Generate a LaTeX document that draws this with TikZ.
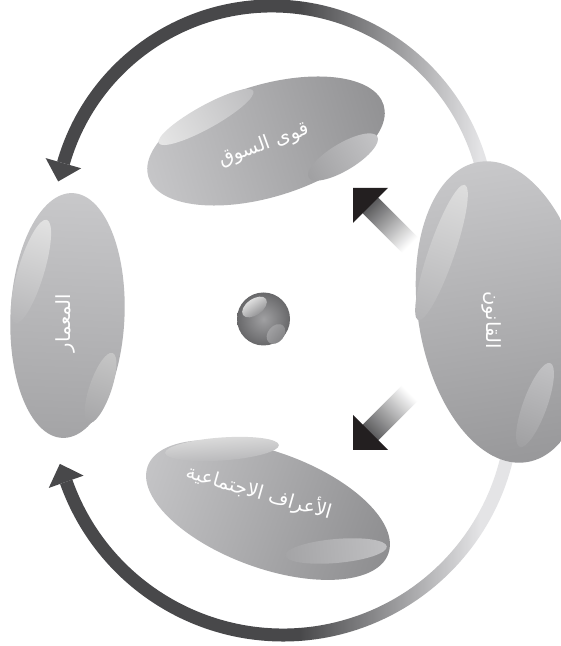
\documentclass[tikz,border=0pt]{standalone}
\usepackage{fontspec}
\usetikzlibrary{calc}
\TeXXeTstate=1
\newfontfamily\arabicfont[Script=Arabic]{DejaVu Sans}
\definecolor{arcdark}{HTML}{48484A}
\definecolor{arclight}{HTML}{E4E4E6}
\definecolor{headblack}{HTML}{231F20}
\definecolor{shaftdark}{HTML}{505052}
\newcommand\ovalshape[6]{%
  \begin{scope}[transform canvas={rotate around={#5:(#1,#2)}}]
    \shade[#6] (#1,#2) ellipse[x radius=#3, y radius=#4];
  \end{scope}}
\begin{document}
\begin{tikzpicture}[x=1pt,y=1pt,
  labeltext/.style={text=white, font=\arabicfont\fontsize{19.5}{22}\selectfont, inner sep=0pt}]
\useasboundingbox (0,0) rectangle (561,646);
\fill[white] (0,0) rectangle (561,646);
\clip (0,0) rectangle (561,646);
\coordinate (topc) at (272,423);
\coordinate (botc) at (283,241);
% ---- top arc
\begin{scope}
  \clip ($(topc)+(0:223.5)$) arc[start angle=0,end angle=164,radius=223.5]
     -- ($(topc)+(164:210.5)$) arc[start angle=164,end angle=0,radius=210.5] -- cycle;
  \fill[arcdark] (0,0) rectangle (300,646);
  \shade[left color=arcdark,right color=arclight] (299.5,0) rectangle (480.5,646);
  \fill[arclight] (480,0) rectangle (561,646);
\end{scope}
\fill[arcdark] ($(topc)+(164:235.5)$) -- ($(topc)+(164:198.5)$) -- ($(topc)+(164:217)+(254:19)$) -- cycle;
% ---- bottom arc
\begin{scope}
  \clip ($(botc)+(-5:236.5)$) arc[start angle=-5,end angle=-160.5,radius=236.5]
     -- ($(botc)+(-160.5:223.5)$) arc[start angle=-160.5,end angle=-5,radius=223.5] -- cycle;
  \fill[arcdark] (0,0) rectangle (300,646);
  \shade[left color=arcdark,right color=arclight] (299.5,0) rectangle (480.5,646);
  \fill[arclight] (480,0) rectangle (561,646);
\end{scope}
\fill[arcdark] ($(botc)+(-160.5:248.5)$) -- ($(botc)+(-160.5:211.5)$) -- ($(botc)+(-160.5:230)+(109.5:19)$) -- cycle;
% ---- law
\ovalshape{503}{334}{85}{152}{9}{top color={rgb,255:red,200;green,200;blue,202}, bottom color={rgb,255:red,152;green,152;blue,154}}
\ovalshape{441.5}{393.5}{13}{71.5}{-19}{top color={rgb,255:red,222;green,222;blue,222}, bottom color={rgb,255:red,180;green,180;blue,182}}
\ovalshape{535}{241}{12}{44.6}{-20}{top color={rgb,255:red,194;green,194;blue,196}, bottom color={rgb,255:red,160;green,160;blue,162}}
% ---- market forces
\ovalshape{266}{505}{123}{56}{17}{left color={rgb,255:red,198;green,198;blue,200}, right color={rgb,255:red,146;green,146;blue,148}}
\ovalshape{206}{529}{54}{11.5}{29}{left color={rgb,255:red,230;green,230;blue,230}, right color={rgb,255:red,190;green,190;blue,192}}
\ovalshape{343}{489}{40}{13.5}{31}{left color={rgb,255:red,160;green,160;blue,162}, right color={rgb,255:red,196;green,196;blue,198}}
% ---- social norms
\ovalshape{268}{136}{128}{58}{-20}{left color={rgb,255:red,196;green,196;blue,198}, right color={rgb,255:red,142;green,142;blue,144}}
\ovalshape{222}{197}{57}{11.5}{4}{top color={rgb,255:red,218;green,218;blue,218}, bottom color={rgb,255:red,186;green,186;blue,188}}
\ovalshape{336}{95}{51}{12}{5}{left color={rgb,255:red,164;green,164;blue,166}, right color={rgb,255:red,192;green,192;blue,194}}
% ---- architect
\ovalshape{67.5}{330.5}{57}{122.5}{-2.5}{top color={rgb,255:red,200;green,200;blue,202}, bottom color={rgb,255:red,164;green,164;blue,166}}
\ovalshape{31}{374.5}{13}{54}{-17}{top color={rgb,255:red,226;green,226;blue,226}, bottom color={rgb,255:red,182;green,182;blue,184}}
\ovalshape{100.5}{258}{11}{37}{-19}{top color={rgb,255:red,198;green,198;blue,198}, bottom color={rgb,255:red,166;green,166;blue,168}}
% ---- centre ball
\shade[inner color={rgb,255:red,160;green,160;blue,162}, outer color={rgb,255:red,104;green,104;blue,106}] (263.5,327) circle (26.5);
\ovalshape{254.5}{339}{14}{8}{35}{top color={rgb,255:red,222;green,222;blue,222}, bottom color={rgb,255:red,150;green,150;blue,152}}
\ovalshape{276}{312}{11}{8}{50}{top color={rgb,255:red,160;green,160;blue,162}, bottom color={rgb,255:red,132;green,132;blue,134}}
% ---- centre arrows
\begin{scope}[transform canvas={rotate around={-45:(370.5,440.5)}}]
  \shade[left color=shaftdark, right color=white] (366,429.5) rectangle (426,451.5);
\end{scope}
\fill[headblack] (353,458) -- (388,458) -- (353,423) -- cycle;
\begin{scope}[transform canvas={rotate around={45:(370.5,213.5)}}]
  \shade[left color=shaftdark, right color=white] (366,202.5) rectangle (426,224.5);
\end{scope}
\fill[headblack] (353,231) -- (353,196) -- (388,196) -- cycle;
% ---- labels
\node[labeltext, rotate=20] (marketlabel) at (264,501) {\beginR قوى السوق\endR};
\node[labeltext, rotate=-16] (normslabel) at (259,154) {\beginR الأعراف الاجتماعية\endR};
\node[labeltext, rotate=90] (archlabel) at (65,323) {\beginR المعمار\endR};
\node[labeltext, rotate=-90] (lawlabel) at (492,326) {\beginR القانون\endR};
\end{tikzpicture}
\end{document}
